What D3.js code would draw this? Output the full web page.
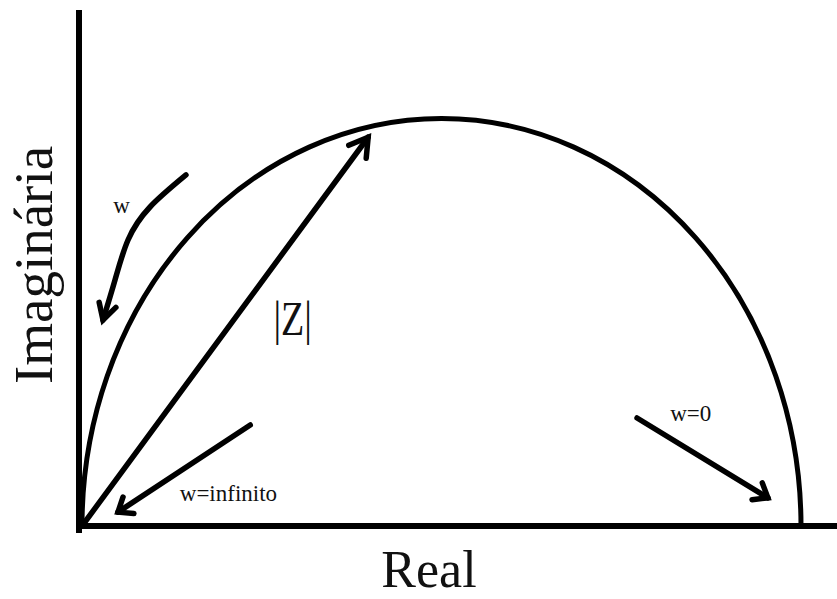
<!DOCTYPE html>
<html>
<head>
<meta charset="utf-8">
<script src="https://cdn.jsdelivr.net/npm/d3@7"></script>
<style>
  body { margin: 0; background: #fff; }
  text { font-family: "Liberation Serif", "Times New Roman", serif; fill: #111; }
</style>
</head>
<body>
<div id="nyquist"></div>
<script>
// semicircle on the real axis (R at w=infinito .. R at w=0) and its top
const arcRe = [0, 100];
const arcPeakIm = 50;

// |Z| vector, origin -> tip
const zVector = [[0, 0], [39.8, 47.7]];

// hand drawn "w" arrow
const wCurve = [
  [14.46, 43.07], [9.46, 39.14], [6.40, 35.09], [4.59, 30.18], [2.92, 25.28]
];

const wInfArrow = [[23.4, 12.4], [5.0, 1.7]];
const w0Arrow = [[77.2, 13.25], [95.4, 3.45]];

const labels = [
  {text: 'w', re: 5.5, im: 38.4, anchor: 'middle', size: 23},
  {text: 'w=infinito', re: 13.6, im: 3.05, anchor: 'start', size: 23},
  {text: 'w=0', re: 81.8, im: 12.9, anchor: 'start', size: 23}
];

const width = 837;
const height = 599;

const svg = d3.select('#nyquist')
  .append('svg')
    .attr('viewBox', [0, 0, width, height])
    .attr('width', width)
    .attr('height', height);

const x = d3.scaleLinear()
  .domain(arcRe)
  .range([82, 801]);

const y = d3.scaleLinear()
  .domain([0, arcPeakIm])
  .range([526, 118.5]);

// axes (plain lines, no ticks)
svg.append('line')
    .attr('x1', x(0) - 3)
    .attr('y1', 10)
    .attr('x2', x(0) - 3)
    .attr('y2', y(0) + 7)
    .attr('stroke', '#000')
    .attr('stroke-width', 6);

svg.append('line')
    .attr('x1', x(0) - 6)
    .attr('y1', y(0))
    .attr('x2', width)
    .attr('y2', y(0))
    .attr('stroke', '#000')
    .attr('stroke-width', 6);

// the impedance arc
const rx = (x(arcRe[1]) - x(arcRe[0])) / 2;
const ry = y(0) - y(arcPeakIm);
svg.append('path')
    .attr('d', `M${x(arcRe[0])},${y(0)} A${rx},${ry} 0 0 1 ${x(arcRe[1])},${y(0)}`)
    .attr('fill', 'none')
    .attr('stroke', '#000')
    .attr('stroke-width', 5);

const line = d3.line()
  .x(d => x(d[0]))
  .y(d => y(d[1]));

const drawArrow = (pts, curve, headLen, headAngle) => {
  svg.append('path')
      .attr('d', line.curve(curve)(pts))
      .attr('fill', 'none')
      .attr('stroke', '#000')
      .attr('stroke-width', 5.5)
      .attr('stroke-linecap', 'round');

  const tip = pts[pts.length - 1];
  const prev = pts[pts.length - 2];
  const tx = x(tip[0]), ty = y(tip[1]);
  const back = Math.atan2(y(prev[1]) - ty, x(prev[0]) - tx);
  const a = headAngle * Math.PI / 180;
  const arm = ang => [tx + headLen * Math.cos(ang), ty + headLen * Math.sin(ang)];
  const p1 = arm(back - a);
  const p2 = arm(back + a);
  svg.append('path')
      .attr('d', `M${p1[0]},${p1[1]} L${tx},${ty} L${p2[0]},${p2[1]}`)
      .attr('fill', 'none')
      .attr('stroke', '#000')
      .attr('stroke-width', 5.5)
      .attr('stroke-linejoin', 'miter')
      .attr('stroke-linecap', 'round');
};

drawArrow(zVector, d3.curveLinear, 21, 31);
drawArrow(wInfArrow, d3.curveLinear, 16, 38);
drawArrow(w0Arrow, d3.curveLinear, 16, 38);
drawArrow(wCurve, d3.curveNatural, 18, 29);

// labels
svg.append('text')
    .attr('transform', `translate(${x(29.3)}, ${y(23.44)}) scale(1, 1.3)`)
    .attr('text-anchor', 'middle')
    .attr('font-size', 38)
    .text('|Z|');

svg.selectAll('.small-label')
  .data(labels)
  .join('text')
    .attr('class', 'small-label')
    .attr('x', d => x(d.re))
    .attr('y', d => y(d.im))
    .attr('text-anchor', d => d.anchor)
    .attr('font-size', d => d.size)
    .attr('fill', '#222')
    .text(d => d.text);

svg.append('text')
    .attr('x', 429)
    .attr('y', 587)
    .attr('text-anchor', 'middle')
    .attr('font-size', 52)
    .text('Real');

svg.append('text')
    .attr('transform', 'translate(52, 265) rotate(-90)')
    .attr('text-anchor', 'middle')
    .attr('font-size', 55)
    .text('Imaginária');
</script>
</body>
</html>
